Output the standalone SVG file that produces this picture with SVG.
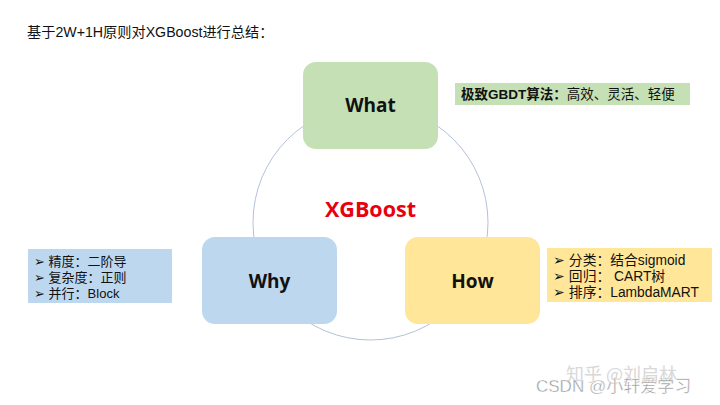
<svg xmlns="http://www.w3.org/2000/svg" width="720" height="405" viewBox="0 0 720 405">
<style>
.t{font-family:"Liberation Sans","Noto Sans CJK SC",sans-serif;font-size:13px;fill:#111}
.lbl{font-family:"Open Sans","Liberation Sans",sans-serif;font-weight:bold;font-size:19px;fill:#111;text-anchor:middle}
.node{stroke:none}
</style>
<rect width="720" height="405" fill="#fff"/>
<text class="t" x="27" y="37" style="font-size:14.2px">基于2W+1H原则对XGBoost进行总结：</text>
<g id="connectors">
<circle cx="370.5" cy="222.5" r="117.5" fill="none" stroke="#b4c2d8" stroke-width="1"/>
</g>
<g id="center">
<text x="370.5" y="217" font-family="'Open Sans','Liberation Sans',sans-serif" font-weight="bold" font-size="21.5" fill="#e8000f" text-anchor="middle">XGBoost</text>
</g>
<g id="what">
<rect class="node" x="303" y="62" width="135" height="87" rx="13" fill="#c5e0b4"/>
<text class="lbl" x="370.5" y="112">What</text>
</g>
<g id="why">
<rect class="node" x="202" y="237" width="135" height="87" rx="13" fill="#bdd7ee"/>
<text class="lbl" x="269.5" y="288">Why</text>
</g>
<g id="how">
<rect class="node" x="405" y="237" width="135" height="87" rx="13" fill="#ffe699"/>
<text class="lbl" x="472.5" y="288">How</text>
</g>
<g id="what-note">
<rect x="455" y="83" width="235" height="22" fill="#c5e0b4"/>
<text class="t" x="461" y="99" style="font-size:13.5px"><tspan font-weight="bold">极致GBDT算法：</tspan>高效、灵活、轻便</text>
</g>
<g id="why-note">
<rect x="28" y="249" width="144" height="54" fill="#bdd7ee"/>
<text class="t" x="34" y="266">➢ 精度：二阶导</text>
<text class="t" x="34" y="282">➢ 复杂度：正则</text>
<text class="t" x="34" y="298">➢ 并行：Block</text>
</g>
<g id="how-note">
<rect x="547" y="248" width="165" height="54" fill="#ffe699"/>
<text class="t" x="553" y="265" style="font-size:13.8px">➢ 分类：结合sigmoid</text>
<text class="t" x="553" y="281" style="font-size:13.8px">➢ 回归： CART树</text>
<text class="t" x="553" y="297" style="font-size:13.8px">➢ 排序：LambdaMART</text>
</g>
<g id="watermark">
<text x="566" y="381" font-family="'Noto Sans CJK SC',sans-serif" font-size="18" fill="#d8d8d8">知乎 @刘启林</text>
<text x="536" y="392" font-family="'Liberation Sans','Noto Sans CJK SC',sans-serif" font-size="17" fill="#999" stroke="#fff" stroke-width="0.4">CSDN @小轩爱学习</text>
</g>
</svg>
